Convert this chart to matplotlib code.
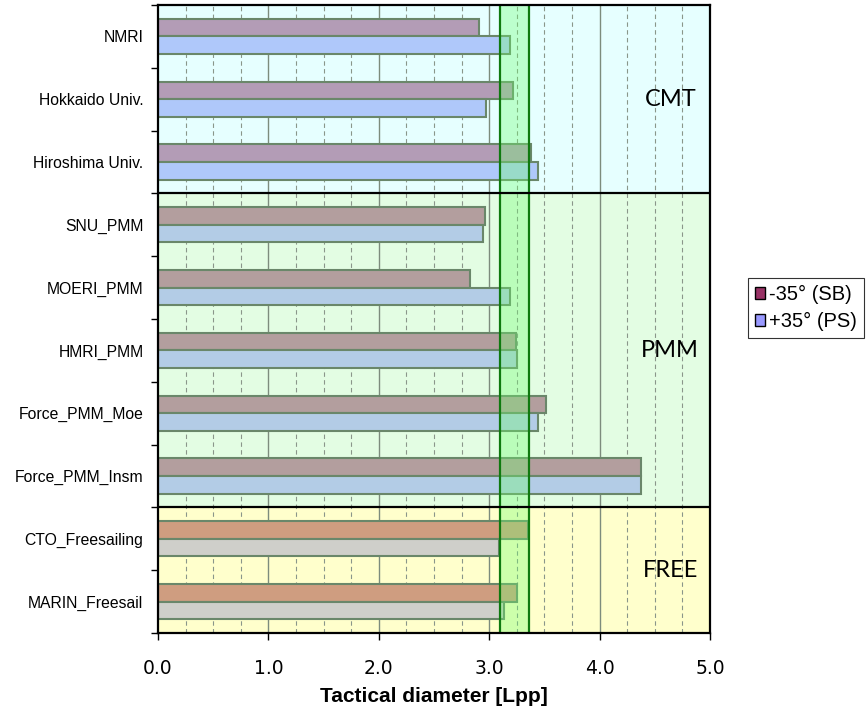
import matplotlib
matplotlib.use('Agg')
import matplotlib.pyplot as plt
from matplotlib.patches import Patch
import numpy as np

plt.rcParams['font.family'] = ['Liberation Sans', 'DejaVu Sans']

# data
labels = ['NMRI', 'Hokkaido Univ.', 'Hiroshima Univ.', 'SNU_PMM', 'MOERI_PMM',
          'HMRI_PMM', 'Force_PMM_Moe', 'Force_PMM_Insm', 'CTO_Freesailing',
          'MARIN_Freesail']
sb_vals = [2.91, 3.22, 3.38, 2.96, 2.83, 3.24, 3.51, 4.375, 3.35, 3.255]
ps_vals = [3.19, 2.97, 3.44, 2.94, 3.19, 3.25, 3.44, 4.375, 3.09, 3.13]
groups = ['CMT'] * 3 + ['PMM'] * 5 + ['FREE'] * 2
group_names = ['CMT', 'PMM', 'FREE']
band_lo, band_hi = 3.1, 3.36

bg_col = {'CMT': '#e6ffff', 'PMM': '#e3fde3', 'FREE': '#ffffcc'}
sb_col = {'CMT': '#b39cb6', 'PMM': '#b39e9e', 'FREE': '#cf9d80'}
ps_col = {'CMT': '#afc8fa', 'PMM': '#b3cce6', 'FREE': '#cfcfca'}
edge = '#6a876a'

fig = plt.figure(figsize=(8.66, 7.10), dpi=100)
ax = fig.add_axes([158 / 866, 77 / 710, 552 / 866, 628 / 710])

n = len(labels)
y = np.arange(n)
ax.set_xlim(0, 5)
ax.set_ylim(n - 0.5, -0.5)

# region backgrounds + labels
start = 0
for g in group_names:
    cnt = groups.count(g)
    ax.axhspan(start - 0.5, start + cnt - 0.5, color=bg_col[g], zorder=0, lw=0)
    ax.text(4.64, start + (cnt - 1) / 2.0, g, family='Lato', fontsize=17,
            ha='center', va='center', zorder=6)
    if start > 0:
        ax.axhline(start - 0.5, color='black', lw=1.6, zorder=5)
    start += cnt

# grid
for xv in np.arange(0.25, 5, 0.25):
    if abs(xv - round(xv)) < 1e-6:
        ax.axvline(xv, color='#7d8c7d', lw=1.0, zorder=1)
    else:
        ax.axvline(xv, color='#8a968a', lw=0.8, ls=(0, (4, 3)), zorder=1)

h = 0.28
for i in range(n):
    g = groups[i]
    ax.barh(y[i] - h / 2, sb_vals[i], height=h, color=sb_col[g],
            edgecolor=edge, lw=1.5, zorder=2)
    ax.barh(y[i] + h / 2, ps_vals[i], height=h, color=ps_col[g],
            edgecolor=edge, lw=1.5, zorder=2)

# target band
ax.axvspan(band_lo, band_hi, facecolor='#70ff70', alpha=0.35, lw=0, zorder=3)
ax.axvline(band_lo, color='#0f7a0f', lw=1.6, zorder=4)
ax.axvline(band_hi, color='#0f7a0f', lw=1.6, zorder=4)

ax.set_yticks(np.arange(n + 1) - 0.5)
ax.set_yticklabels([])
ax.set_yticks(y, minor=True)
ax.set_yticklabels(labels, minor=True, fontsize=11.3)
ax.tick_params(axis='y', which='minor', length=0, pad=10.5)
ax.tick_params(axis='y', which='major', length=5, width=1)
ax.set_xticks(np.arange(0, 5.1, 1.0))
ax.set_xticklabels(['%.1f' % v for v in np.arange(0, 5.1, 1.0)],
                   family='DejaVu Sans', fontsize=13.5)
ax.tick_params(axis='x', length=5, width=1, pad=14)
ax.set_xlabel('Tactical diameter [Lpp]', fontsize=15, fontweight='bold',
              labelpad=6)
for s in ax.spines.values():
    s.set_linewidth(1.6)
    s.set_zorder(7)

handles = [Patch(facecolor='#993366', edgecolor='black', label='-35° (SB)'),
           Patch(facecolor='#9999ff', edgecolor='black', label='+35° (PS)')]
leg = fig.legend(handles=handles, loc='upper left',
                 bbox_to_anchor=(748 / 866, 1 - 278 / 710), fontsize=14.5,
                 frameon=True, fancybox=False, handlelength=0.5,
                 handleheight=0.5, handletextpad=0.2, borderpad=0.35,
                 labelspacing=0.4, borderaxespad=0)
leg.get_frame().set_edgecolor('black')
leg.get_frame().set_linewidth(0.8)

fig.savefig('out.png', dpi=100)
